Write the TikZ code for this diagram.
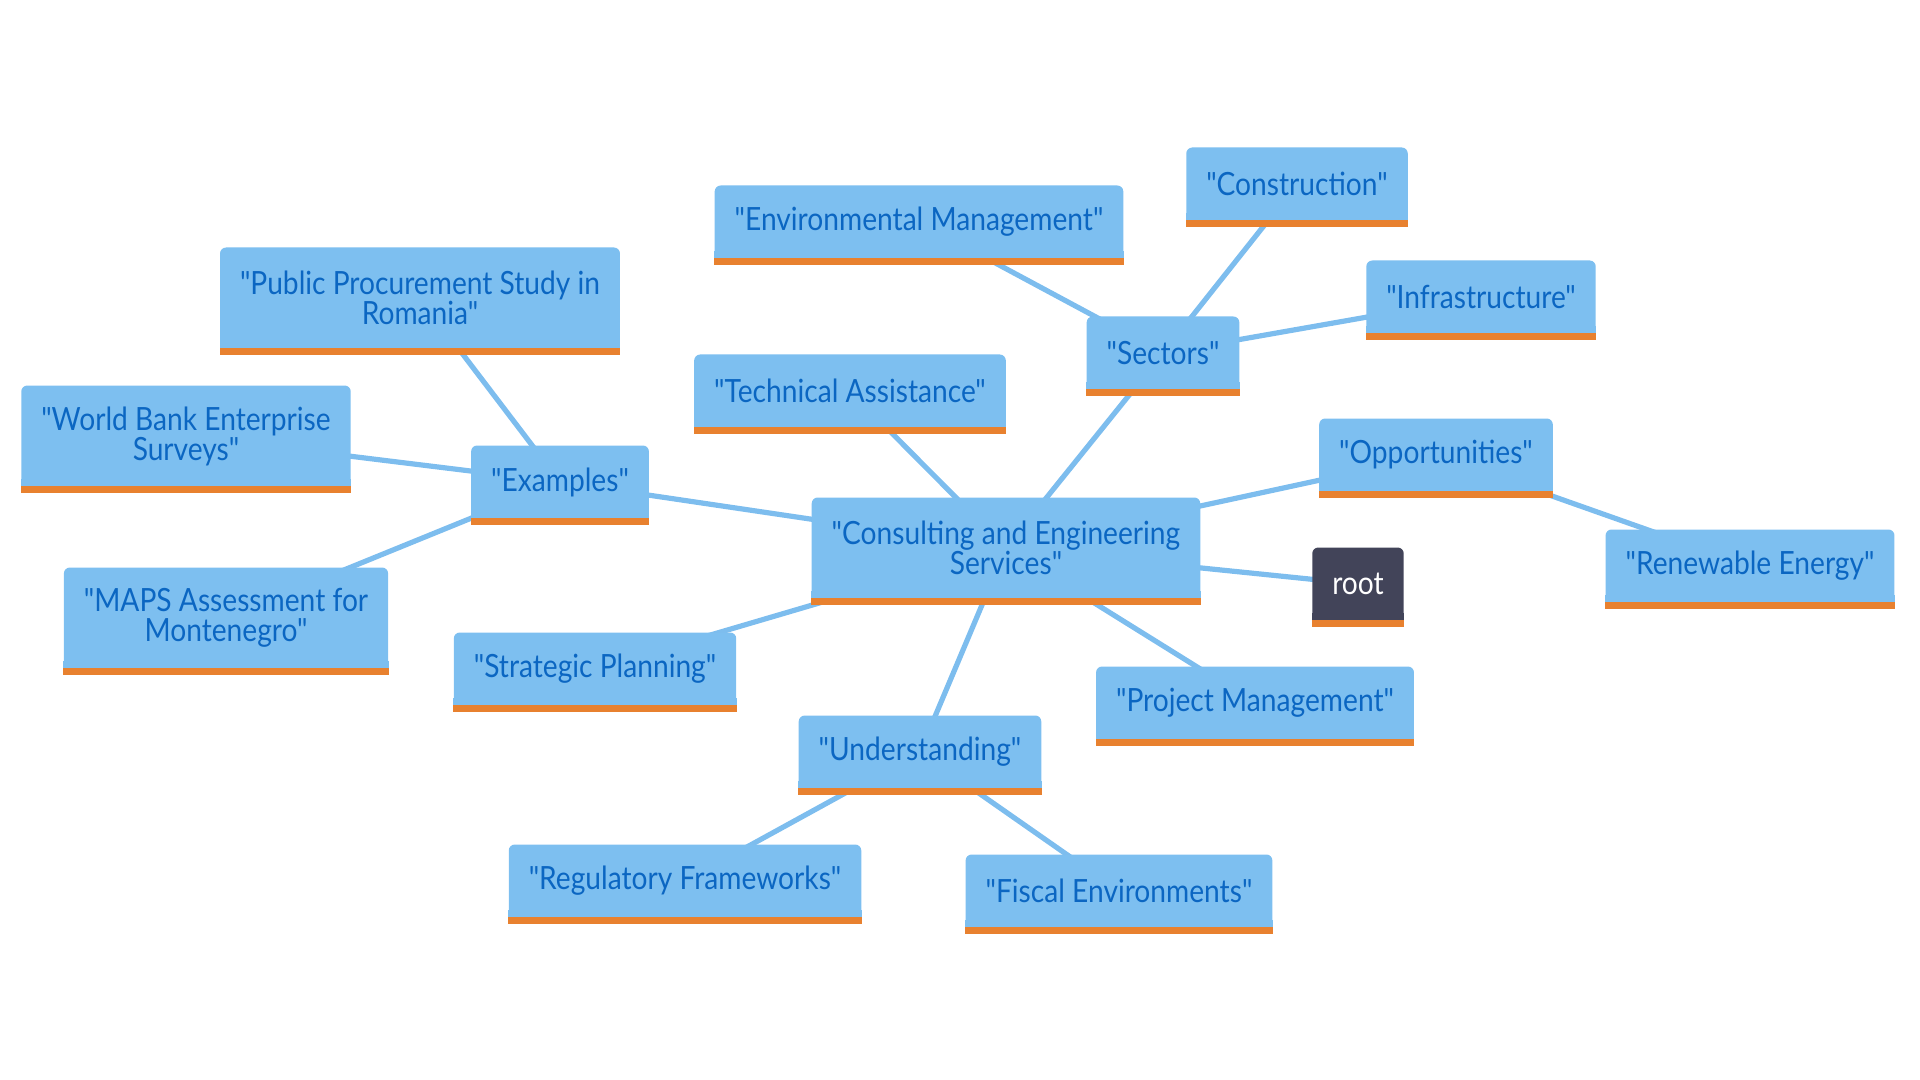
\documentclass[tikz,border=0pt]{standalone}
\usepackage{fontspec}
\newfontfamily\mindfont{Lato}[FakeStretch=0.88]
\usetikzlibrary{backgrounds}
\definecolor{boxblue}{HTML}{7DBFF0}
\definecolor{textblue}{HTML}{0B66C2}
\definecolor{barorange}{HTML}{E8812F}
\definecolor{rootgray}{HTML}{424459}
\definecolor{edgeblue}{HTML}{7DBDEE}

\begin{document}
\begin{tikzpicture}[x=0.5pt, y=-0.5pt,
    idea/.style={rectangle, rounded corners=3pt, fill=boxblue, text=textblue,
      font={\mindfont\fontsize{16}{15}\selectfont}, align=center,
      inner xsep=10pt, minimum height=36.5pt},
    twoline/.style={minimum height=50.5pt},
    rootbox/.style={idea, fill=rootgray, text=white},
    link/.style={draw=edgeblue, line width=2.6pt}]
      \useasboundingbox (0,0) rectangle (1920,1080);

      \node[idea, twoline] (cons) at (1006,548) {"Consulting and Engineering\\Services"};
      \node[rootbox] (root) at (1358,584) {root};
      \node[idea] (opp) at (1436,455) {"Opportunities"};
      \node[idea] (renew) at (1750,566) {"Renewable Energy"};
      \node[idea] (proj) at (1255,703) {"Project Management"};
      \node[idea] (under) at (920,752) {"Understanding"};
      \node[idea] (reg) at (685,881) {"Regulatory Frameworks"};
      \node[idea] (fiscal) at (1119,891) {"Fiscal Environments"};
      \node[idea] (strat) at (595,669) {"Strategic Planning"};
      \node[idea] (tech) at (850,391) {"Technical Assistance"};
      \node[idea] (sect) at (1163,353) {"Sectors"};
      \node[idea] (env) at (919,222) {"Environmental Management"};
      \node[idea] (constr) at (1297,184) {"Construction"};
      \node[idea] (infra) at (1481,297) {"Infrastructure"};
      \node[idea] (exam) at (560,482) {"Examples"};
      \node[idea, twoline] (pub) at (420,298) {"Public Procurement Study in\\Romania"};
      \node[idea, twoline] (world) at (186,436) {"World Bank Enterprise\\Surveys"};
      \node[idea, twoline] (maps) at (226,618) {"MAPS Assessment for\\Montenegro"};

      \foreach \n/\c in {cons/boxblue,root/rootgray,opp/boxblue,renew/boxblue,proj/boxblue,
          under/boxblue,reg/boxblue,fiscal/boxblue,strat/boxblue,tech/boxblue,sect/boxblue,
          env/boxblue,constr/boxblue,infra/boxblue,exam/boxblue,pub/boxblue,world/boxblue,maps/boxblue}
      {
        \fill[\c] ([yshift=4pt]\n.south west) rectangle (\n.south east);
        \fill[barorange] ([yshift=0.5pt]\n.south west) rectangle ([yshift=-3pt]\n.south east);
      }

      \begin{pgfonlayer}{background}
      \draw[link] (cons.center) -- (exam.center);
      \draw[link] (cons.center) -- (tech.center);
      \draw[link] (cons.center) -- (sect.center);
      \draw[link] (cons.center) -- (opp.center);
      \draw[link] (cons.center) -- (root.center);
      \draw[link] (cons.center) -- (proj.center);
      \draw[link] (cons.center) -- (under.center);
      \draw[link] (cons.center) -- (strat.center);
      \draw[link] (exam.center) -- (pub.center);
      \draw[link] (exam.center) -- (world.center);
      \draw[link] (exam.center) -- (maps.center);
      \draw[link] (sect.center) -- (env.center);
      \draw[link] (sect.center) -- (constr.center);
      \draw[link] (sect.center) -- (infra.center);
      \draw[link] (opp.center) -- (renew.center);
      \draw[link] (under.center) -- (reg.center);
      \draw[link] (under.center) -- (fiscal.center);
      \end{pgfonlayer}
    \end{tikzpicture}
\end{document}
